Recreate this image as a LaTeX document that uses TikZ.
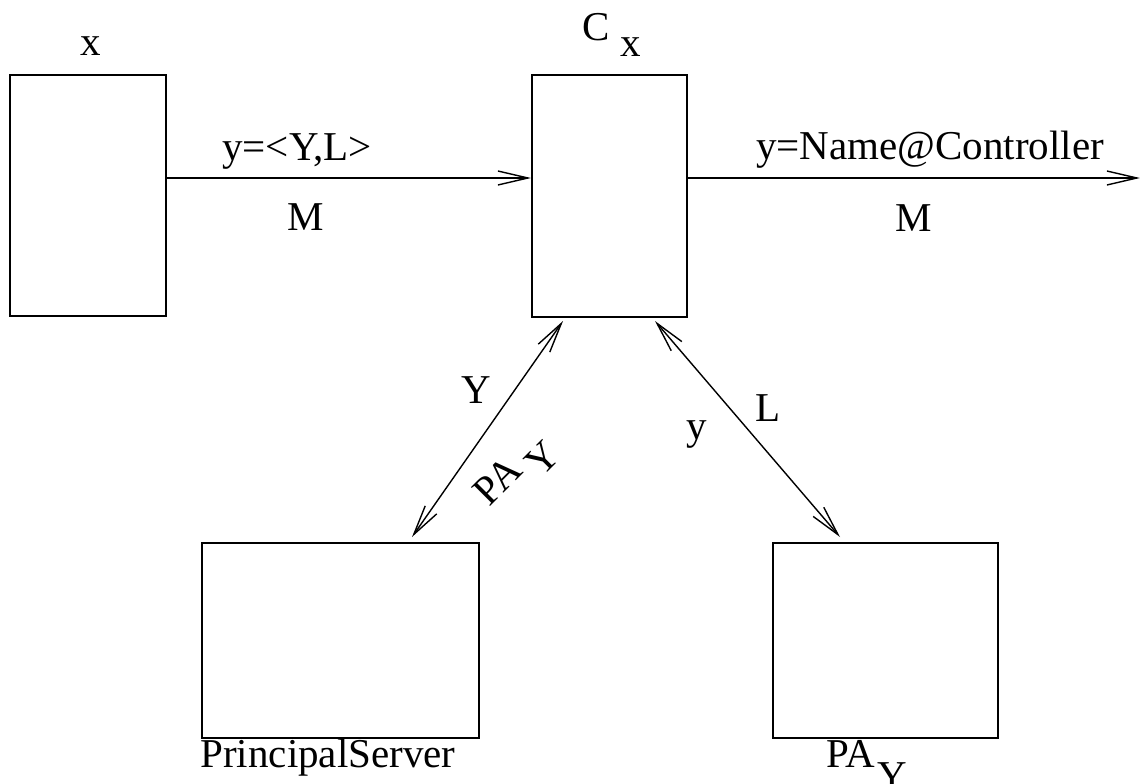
\documentclass[tikz,border=0pt]{standalone}
\usepackage{fontspec}
\setmainfont{Liberation Serif}
\usetikzlibrary{arrows.meta}

\begin{document}
\begin{tikzpicture}[x=1pt,y=-1pt,
  box/.style={draw,line width=2pt,inner sep=0pt,rectangle},
  lbl/.style={inner sep=0pt,anchor=base,font=\fontsize{41pt}{49pt}\selectfont},
  arr/.style={line width=1.4pt,-{Straight Barb[length=30pt,width=14pt,line width=1.4pt]}},
  darr/.style={line width=1.4pt,{Straight Barb[length=30pt,width=14pt,line width=1.4pt]}-{Straight Barb[length=30pt,width=14pt,line width=1.4pt]}}]
\useasboundingbox (0,0) rectangle (1140,784);

% boxes
\node[box,minimum width=156pt,minimum height=241pt] (bx) at (88,195.5) {};
\node[box,minimum width=155pt,minimum height=242pt] (bc) at (609.5,196) {};
\node[box,minimum width=277pt,minimum height=195pt] (bps) at (340.5,640.5) {};
\node[box,minimum width=225pt,minimum height=195pt] (bpa) at (885.5,640.5) {};

% box titles
\node[lbl] (tx) at (91,56) {x};
\node[lbl,anchor=base west] (tc) at (582,41) {C\hspace{11pt}\raisebox{-16pt}{x}};
\node[lbl] (tps) at (328,767) {PrincipalServer};
\node[lbl,anchor=base west] (tpa) at (826,767) {PA\hspace{3pt}\raisebox{-22pt}{Y}};

% message to the controller
\draw[arr] ([yshift=17.5pt]bx.east) -- ([yshift=18pt]bc.west);
\node[lbl] (l1) at (297,160) {y=<Y,L>};
\node[lbl] (m1) at (305.5,230) {M};

% forwarded message
\coordinate (out) at (1140,178);
\draw[arr] ([yshift=18pt]bc.east) -- (out);
\node[lbl] (l2) at (930,159) {y=Name@Controller};
\node[lbl] (m2) at (913.5,231) {M};

% exchange with the principal server
\draw[darr] ([xshift=71.5pt,yshift=5pt]bps.north) -- ([xshift=-46.5pt,yshift=-3pt]bc.south);
\node[lbl] (ly) at (476,403) {Y};
\node[lbl,anchor=base west,rotate=45] (lpa) at (489.5,507.6) {PA\hspace{9pt}\raisebox{-16pt}{Y}};

% exchange with PA_Y
\draw[darr] ([xshift=45.5pt,yshift=-3pt]bc.south) -- ([xshift=-45.5pt,yshift=5pt]bpa.north);
\node[lbl] (lsy) at (697,439) {y};
\node[lbl] (ll) at (768,421) {L};
\end{tikzpicture}
\end{document}
